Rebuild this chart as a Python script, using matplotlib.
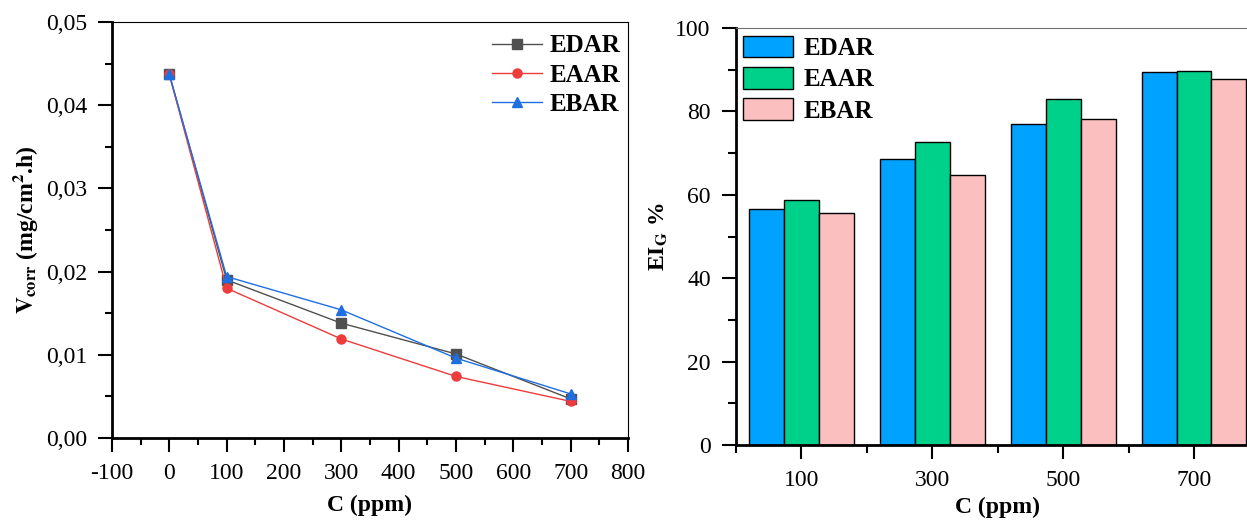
import matplotlib
matplotlib.use("Agg")
import matplotlib.pyplot as plt
from matplotlib.ticker import MultipleLocator, FuncFormatter
import numpy as np

plt.rcParams['font.family'] = ['Liberation Serif', 'DejaVu Serif']
plt.rcParams['mathtext.fontset'] = 'stix'
plt.rcParams['axes.unicode_minus'] = False

# courbes de vitesse de corrosion
conc = [0, 100, 300, 500, 700]
v_edar = [0.0437, 0.0190, 0.0138, 0.0101, 0.0047]
v_eaar = [0.0437, 0.0180, 0.0119, 0.0074, 0.0044]
v_ebar = [0.0437, 0.0194, 0.0154, 0.0096, 0.0053]

# efficacite inhibitrice
groups = ['100', '300', '500', '700']
ei_edar = [56.5, 68.5, 77.0, 89.5]
ei_eaar = [58.8, 72.8, 83.0, 89.8]
ei_ebar = [55.7, 64.8, 78.2, 87.8]

fig = plt.figure(figsize=(12.47, 5.2), dpi=100)

ax1 = fig.add_axes([0.0898, 0.1577, 0.4138, 0.8])
ax1.plot(conc, v_edar, '-s', color='#505050', lw=1, ms=6.5, label='EDAR')
ax1.plot(conc, v_eaar, '-o', color='#ee3b3b', lw=1, ms=6.5, label='EAAR')
ax1.plot(conc, v_ebar, '-^', color='#1f6fe0', lw=1, ms=7.5, label='EBAR')
ax1.set_xlim(-100, 800)
ax1.set_ylim(0, 0.05)
ax1.xaxis.set_major_locator(MultipleLocator(100))
ax1.xaxis.set_minor_locator(MultipleLocator(50))
ax1.yaxis.set_major_locator(MultipleLocator(0.01))
ax1.yaxis.set_minor_locator(MultipleLocator(0.005))
ax1.yaxis.set_major_formatter(FuncFormatter(lambda v, p: f'{v:.2f}'.replace('.', ',')))
ax1.tick_params(which='major', direction='out', length=10, width=1.5, labelsize=17, pad=8)
ax1.tick_params(which='minor', direction='out', length=5, width=1.5)
for s in ['left', 'bottom']:
    ax1.spines[s].set_linewidth(2)
for s in ['right', 'top']:
    ax1.spines[s].set_linewidth(0.8)
ax1.set_xlabel('C (ppm)', fontsize=17, fontweight='bold', labelpad=8)
ax1.set_ylabel(r'$\mathbf{V}_{\mathbf{corr}}$ (mg/cm$\mathbf{^{2}}$.h)', fontsize=17, fontweight='bold')
ax1.legend(loc='upper right', frameon=False, prop={'size': 18, 'weight': 'bold'},
           handlelength=2.0, borderaxespad=0, borderpad=0.5, labelspacing=0.25,
           handletextpad=0.3, bbox_to_anchor=(1.01, 1.0))

ax2 = fig.add_axes([0.590, 0.144, 0.42, 0.802])
x = np.arange(len(groups))
w = 0.267
ax2.bar(x - w, ei_edar, w, color='#00a2ff', edgecolor='black', lw=1, label='EDAR')
ax2.bar(x, ei_eaar, w, color='#00d18a', edgecolor='black', lw=1, label='EAAR')
ax2.bar(x + w, ei_ebar, w, color='#fcbfbf', edgecolor='black', lw=1, label='EBAR')
ax2.set_xlim(-0.5, 3.5)
ax2.set_ylim(0, 100)
ax2.set_xticks(x)
ax2.set_xticklabels(groups)
ax2.set_xticks(np.arange(-0.5, 3.6, 1), minor=True)
ax2.yaxis.set_major_locator(MultipleLocator(20))
ax2.yaxis.set_minor_locator(MultipleLocator(10))
ax2.tick_params(which='major', direction='out', length=10, width=1.5, labelsize=17, pad=8)
ax2.tick_params(which='minor', direction='out', length=6, width=1.5)
ax2.spines['left'].set_linewidth(2)
ax2.spines['bottom'].set_linewidth(2)
ax2.spines['top'].set_linewidth(0.8)
ax2.spines['top'].set_color('#707070')
ax2.set_xlabel('C (ppm)', fontsize=17, fontweight='bold', labelpad=4)
ax2.set_ylabel(r'EI$_{\mathbf{G}}$ %', fontsize=17, fontweight='bold')
ax2.legend(loc='upper left', frameon=False, prop={'size': 18, 'weight': 'bold'},
           handlelength=2.0, handleheight=0.95, borderaxespad=0, borderpad=0.3,
           labelspacing=0.28, handletextpad=0.4)

fig.savefig('out.png', dpi=100)
